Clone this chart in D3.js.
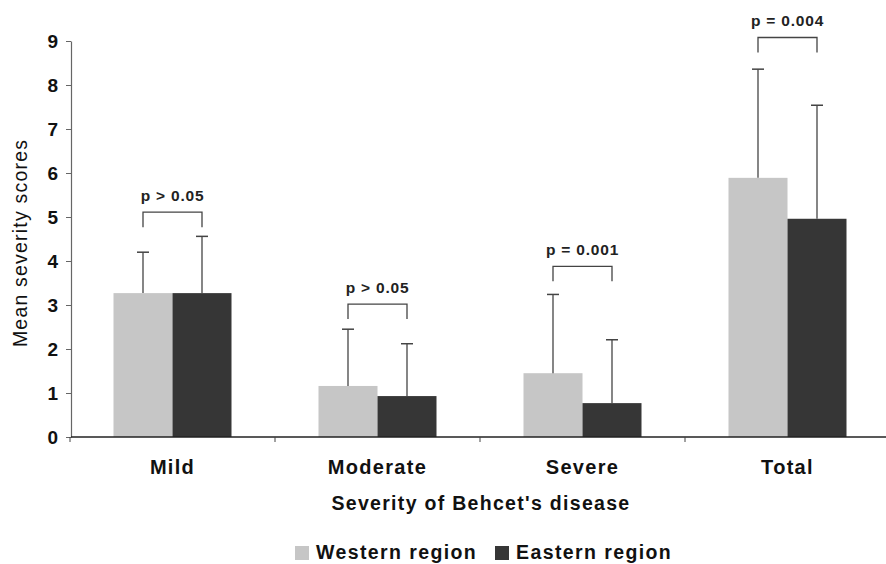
<!DOCTYPE html>
<html>
<head>
<meta charset="utf-8">
<script src="https://cdn.jsdelivr.net/npm/d3@7"></script>
<style>
  html, body { margin: 0; padding: 0; background: #fff; }
  svg { display: block; font-family: "Liberation Sans", Arial, sans-serif; }
</style>
</head>
<body>
<svg id="chart" width="886" height="564"></svg>
<script>
const categories = ["Mild", "Moderate", "Severe", "Total"];
const seriesNames = ["Western region", "Eastern region"];
const westernMeans = [3.27, 1.16, 1.45, 5.89];
const easternMeans = [3.27, 0.93, 0.77, 4.96];
const westernErrTop = [4.2, 2.45, 3.24, 8.36];
const easternErrTop = [4.56, 2.12, 2.21, 7.54];
const pLabels = ["p > 0.05", "p > 0.05", "p = 0.001", "p = 0.004"];
const bracketLevels = [5.11, 3.02, 3.88, 9.08];
const yTicks = [0, 1, 2, 3, 4, 5, 6, 7, 8, 9];

const colors = ["#c6c6c6", "#363636"];

const svg = d3.select("#chart");
const mLeft = 70, mRight = 890, mTop = 41, mBottom = 437;

const y = d3.scaleLinear().domain([0, 9]).range([mBottom, mTop]);
const xOuter = d3.scaleBand().domain(categories).range([mLeft, mRight]).paddingInner(0.4244).paddingOuter(0.2122);
const xBound = d3.scaleBand().domain(categories).range([mLeft, mRight]).padding(0);
const xInner = d3.scaleBand().domain(seriesNames).range([0, xOuter.bandwidth()]);

const rows = categories.map((c, i) => ({
  cat: c,
  vals: [
    { s: seriesNames[0], v: westernMeans[i], e: westernErrTop[i] },
    { s: seriesNames[1], v: easternMeans[i], e: easternErrTop[i] }
  ]
}));

// bars
const g = svg.append("g");
const groups = g.selectAll("g.grp").data(rows).join("g").attr("class", "grp")
  .attr("transform", d => `translate(${xOuter(d.cat)},0)`);
groups.selectAll("rect").data(d => d.vals).join("rect")
  .attr("x", d => xInner(d.s))
  .attr("width", xInner.bandwidth())
  .attr("y", d => y(d.v))
  .attr("height", d => y(0) - y(d.v))
  .attr("fill", (d, i) => colors[i]);

// error bars
const capW = 12;
groups.selectAll("g.err").data(d => d.vals).join("g").attr("class", "err").each(function(d) {
  const cx = xInner(d.s) + xInner.bandwidth() / 2;
  const gg = d3.select(this);
  gg.append("line").attr("x1", cx).attr("x2", cx).attr("y1", y(d.v)).attr("y2", y(d.e))
    .attr("stroke", "#444").attr("stroke-width", 1.3);
  gg.append("line").attr("x1", cx - capW / 2).attr("x2", cx + capW / 2).attr("y1", y(d.e)).attr("y2", y(d.e))
    .attr("stroke", "#444").attr("stroke-width", 1.5);
});

// brackets and p labels
rows.forEach((d, i) => {
  const x0 = xOuter(d.cat) + xInner(seriesNames[0]) + xInner.bandwidth() / 2;
  const x1 = xOuter(d.cat) + xInner(seriesNames[1]) + xInner.bandwidth() / 2;
  const yt = y(bracketLevels[i]);
  svg.append("path")
    .attr("d", `M${x0},${yt + 15}V${yt}H${x1}V${yt + 15}`)
    .attr("fill", "none").attr("stroke", "#444").attr("stroke-width", 1.3);
  svg.append("text")
    .attr("x", (x0 + x1) / 2).attr("y", yt - 11)
    .attr("text-anchor", "middle")
    .attr("font-size", 15.5).attr("font-weight", "bold").attr("letter-spacing", 0.8)
    .attr("fill", "#222")
    .text(pLabels[i]);
});

// y axis
const yAxis = d3.axisLeft(y).tickValues(yTicks).tickSize(5).tickPadding(8).tickSizeOuter(0);
const ya = svg.append("g").attr("transform", `translate(${mLeft + 1},0)`).call(yAxis);
ya.select(".domain").attr("stroke", "#666").attr("stroke-width", 1.2);
ya.selectAll(".tick line").attr("stroke", "#666");
ya.selectAll(".tick text").attr("font-size", 19).attr("font-weight", "bold").attr("fill", "#111")
  .attr("font-family", "Liberation Sans, Arial, sans-serif");

// x axis
const xa = svg.append("g").attr("transform", `translate(0,${mBottom})`);
xa.append("line").attr("x1", mLeft + 1).attr("x2", 886).attr("y1", 0).attr("y2", 0)
  .attr("stroke", "#222").attr("stroke-width", 1.3);
xa.selectAll("line.tk").data(categories).join("line").attr("class", "tk")
  .attr("x1", d => xBound(d)).attr("x2", d => xBound(d)).attr("y1", 0).attr("y2", 5)
  .attr("stroke", "#444");
xa.selectAll("text").data(categories).join("text")
  .attr("x", d => xOuter(d) + xOuter.bandwidth() / 2).attr("y", 37)
  .attr("text-anchor", "middle")
  .attr("font-size", 20).attr("font-weight", "bold").attr("letter-spacing", 1.3).attr("fill", "#111")
  .text(d => d);

// axis titles
svg.append("text").attr("x", 481).attr("y", 510).attr("text-anchor", "middle")
  .attr("font-size", 19.5).attr("font-weight", "bold").attr("letter-spacing", 1.3).attr("fill", "#111")
  .text("Severity of Behcet's disease");
svg.append("text").attr("transform", "translate(27,243) rotate(-90)").attr("text-anchor", "middle")
  .attr("font-size", 19.5).attr("letter-spacing", 1.2).attr("fill", "#111")
  .text("Mean severity scores");

// legend
const legend = svg.append("g");
const legX = [295, 495];
seriesNames.forEach((s, i) => {
  legend.append("rect").attr("x", legX[i]).attr("y", 546).attr("width", 14).attr("height", 14).attr("fill", colors[i]);
  legend.append("text").attr("x", legX[i] + 21).attr("y", 559)
    .attr("font-size", 19.5).attr("font-weight", "bold").attr("letter-spacing", 1.4).attr("fill", "#111")
    .text(s);
});
</script>
</body>
</html>
